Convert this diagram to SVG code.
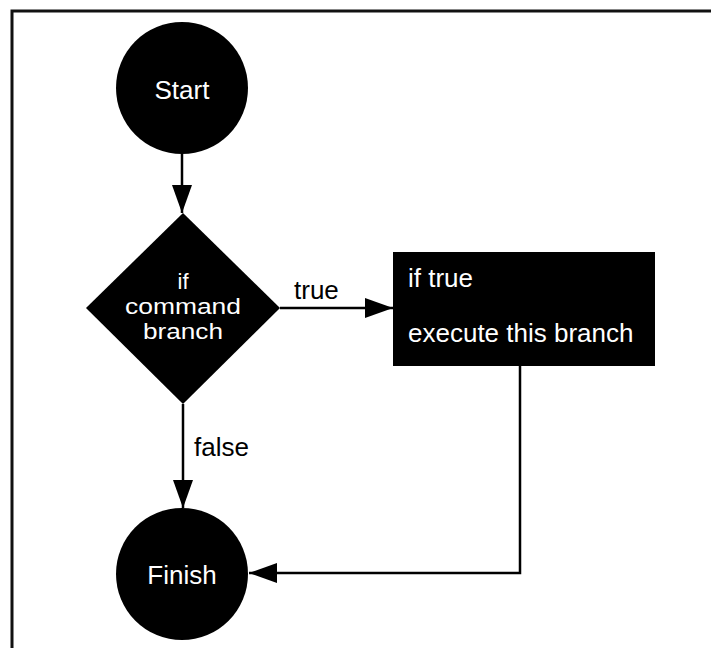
<svg xmlns="http://www.w3.org/2000/svg" width="711" height="648" viewBox="0 0 711 648">
<style>
.node{fill:#000;}
.wt{fill:#fff;font-family:"Liberation Sans",Arial,sans-serif;font-size:26px;}
.dt{fill:#fff;font-family:"Liberation Sans",Arial,sans-serif;font-size:22px;}
.bt{fill:#000;font-family:"Liberation Sans",Arial,sans-serif;font-size:26px;}
.conn{fill:none;stroke:#000;stroke-width:2.5;}
.frame{fill:none;stroke:#111;stroke-width:3;}
</style>
<defs>
<marker id="ah" markerUnits="userSpaceOnUse" viewBox="0 0 28 20" refX="28" refY="10" markerWidth="28" markerHeight="20" orient="auto">
<path d="M0,0 L28,10 L0,20 Z" fill="#000"/>
</marker>
</defs>
<rect width="711" height="648" fill="#fff"/>
<path class="frame" d="M12,648 L12,11 L711,11"/>
<g id="connectors">
<line class="conn" x1="182" y1="154" x2="182" y2="213" marker-end="url(#ah)"/>
<line class="conn" x1="280" y1="308" x2="393" y2="308" marker-end="url(#ah)"/>
<line class="conn" x1="183" y1="404" x2="183" y2="508" marker-end="url(#ah)"/>
<polyline class="conn" points="520,366 520,573 249,573" marker-end="url(#ah)"/>
<text class="bt" x="294" y="299">true</text>
<text class="bt" x="194" y="456">false</text>
</g>
<g id="start">
<circle class="node" cx="182" cy="88" r="66"/>
<text class="wt" x="182" y="99" text-anchor="middle">Start</text>
</g>
<g id="decision">
<polygon class="node" points="183,213 280,308 183,404 86,308"/>
<text class="dt" x="183" y="289" text-anchor="middle">if</text>
<text class="dt" x="183" y="314" text-anchor="middle" textLength="116" lengthAdjust="spacingAndGlyphs">command</text>
<text class="dt" x="183" y="339" text-anchor="middle" textLength="80" lengthAdjust="spacingAndGlyphs">branch</text>
</g>
<g id="truebranch">
<rect class="node" x="393" y="252" width="262" height="114"/>
<text class="wt" x="408" y="287">if true</text>
<text class="wt" x="408" y="342">execute this branch</text>
</g>
<g id="finish">
<circle class="node" cx="182" cy="574" r="66"/>
<text class="wt" x="182" y="584" text-anchor="middle">Finish</text>
</g>
</svg>
